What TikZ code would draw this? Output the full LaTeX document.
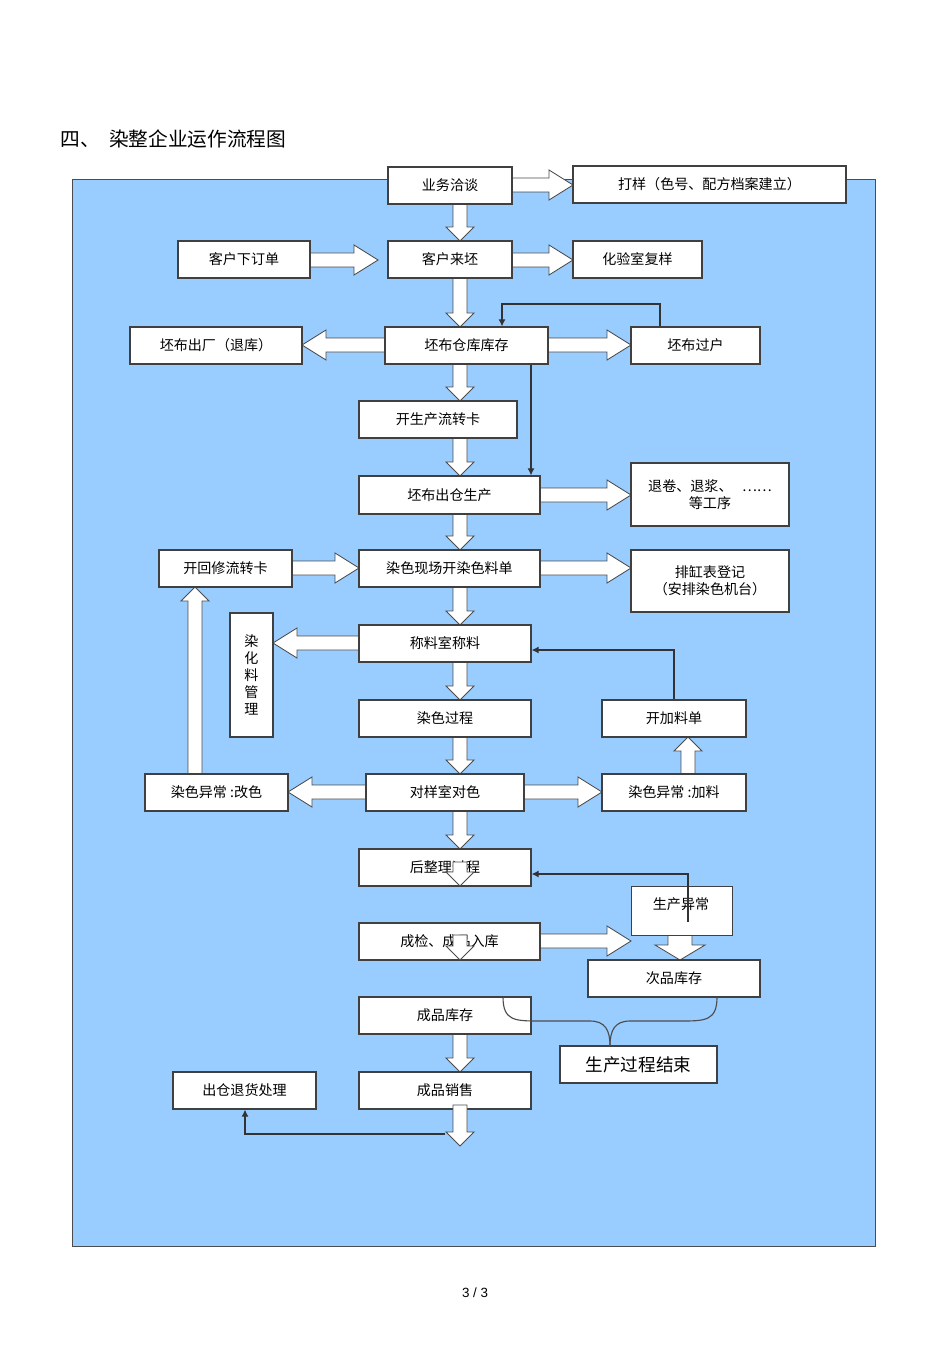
\documentclass[tikz,border=0pt]{standalone}
\usepackage{fontspec}
\usetikzlibrary{arrows.meta}
\setmainfont{Noto Sans CJK SC}
\newfontfamily\lat{Liberation Sans}
\begin{document}
\begin{tikzpicture}[x=0.025cm,y=-0.025cm,
  box/.style={draw=black!75,line width=0.9pt,fill=white,inner sep=0,font=\fontsize{10}{12}\selectfont},
  barr/.style={draw=black!70,line width=0.6pt,fill=white},
  thin/.style={draw=black!80,line width=0.8pt,-{Latex[length=5pt,width=5pt]}}]
\useasboundingbox (0,0) rectangle (950,1345);
\fill[white] (0,0) rectangle (950,1345);
\fill[fill={rgb,255:red,153;green,204;blue,255},draw=black!70] (72,179) rectangle (875,1246);
\node[anchor=west,font=\fontsize{14}{16}\selectfont] (title) at (56,139) {四、\ \ 染整企业运作流程图};
\node[font=\lat\fontsize{9.5}{11}\selectfont] (pg) at (475,1293) {3 / 3};
\newcommand\bx[6]{\node[box,minimum width=(#4-#2)*0.025cm,minimum height=(#5-#3)*0.025cm,align=center] (#1) at ({(#2+#4)/2},{(#3+#5)/2}) {#6};}
\newcommand\harr[3]{\pgfmathsetmacro\xb{#2-sign(#2-#1)*24}
  \draw[barr] (#1,#3-7)--(\xb,#3-7)--(\xb,#3-15)--(#2,#3)--(\xb,#3+15)--(\xb,#3+7)--(#1,#3+7)--cycle;}
\newcommand\varr[3]{\pgfmathsetmacro\yb{#3-sign(#3-#2)*14}
  \draw[barr] (#1-7,#2)--(#1-7,\yb)--(#1-14,\yb)--(#1,#3)--(#1+14,\yb)--(#1+7,\yb)--(#1+7,#2)--cycle;}
% block arrows
\harr{505}{573}{185}\varr{460}{200}{241}
\harr{305}{378}{260}\harr{505}{573}{260}\varr{460}{274}{327}
\harr{390}{302}{345}\harr{543}{631}{345}\varr{460}{360}{401}
\varr{460}{434}{476}\harr{535}{631}{495}\varr{460}{510}{550}
\harr{287}{359}{568}\harr{535}{631}{568}\varr{460}{583}{625}
\harr{364}{273}{643}\varr{460}{658}{700}\varr{460}{733}{774}
\harr{371}{288}{792}\harr{519}{602}{792}\varr{688}{778}{737}
\varr{195}{778}{587}\varr{460}{807}{849}
\harr{535}{631}{941}
\draw[barr] (668,931)--(668,945)--(655,945)--(680,960)--(705,945)--(692,945)--(692,931)--cycle;
\varr{460}{1030}{1072}
% boxes
\bx{a}{388}{167}{512}{204}{业务洽谈}
\bx{b}{573}{166}{846}{203}{打样（色号、配方档案建立）}
\bx{c}{178}{241}{310}{278}{客户下订单}
\bx{d}{388}{241}{512}{278}{客户来坯}
\bx{e}{573}{241}{702}{278}{化验室复样}
\bx{f}{130}{327}{302}{364}{坯布出厂（退库）}
\bx{g}{385}{327}{548}{364}{坯布仓库库存}
\bx{h}{631}{327}{760}{364}{坯布过户}
\bx{i}{359}{401}{517}{438}{开生产流转卡}
\bx{j}{359}{476}{540}{514}{坯布出仓生产}
\bx{k}{631}{463}{789}{526}{退卷、退浆、 \ \ ……\\等工序}
\bx{l}{159}{550}{292}{587}{开回修流转卡}
\bx{m}{359}{550}{540}{587}{染色现场开染色料单}
\bx{n}{631}{550}{789}{612}{排缸表登记\\（安排染色机台）}
\bx{o}{230}{613}{273}{737}{染\\化\\料\\管\\理}
\bx{p}{359}{625}{531}{662}{称料室称料}
\bx{q}{359}{700}{531}{737}{染色过程}
\bx{r}{602}{700}{746}{737}{开加料单}
\bx{s}{145}{774}{288}{811}{染色异常 :改色}
\bx{t}{366}{774}{524}{811}{对样室对色}
\bx{u}{602}{774}{746}{811}{染色异常 :加料}
\bx{v}{359}{849}{531}{886}{后整理过程}
\node[box,minimum width=101*0.025cm,minimum height=49*0.025cm,anchor=north west] (w) at (631,886) {};
\node[font=\fontsize{10}{12}\selectfont] (wt) at (681,904) {生产异常};
\bx{x}{359}{923}{540}{960}{成检、成品入库}
\bx{y}{588}{960}{760}{997}{次品库存}
\bx{z}{359}{997}{531}{1034}{成品库存}
\node[box,minimum width=157*0.025cm,minimum height=37*0.025cm,font=\fontsize{12.5}{14}\selectfont] (end) at (638.5,1064.5) {生产过程结束};
\bx{ret}{173}{1072}{316}{1109}{出仓退货处理}
\bx{sal}{359}{1072}{531}{1109}{成品销售}
\varr{460}{862}{886}\varr{460}{935}{960}\varr{460}{1105}{1146}
% thin arrows
\draw[thin] (h.north-|660,0) |- (502,304) -- (g.north-|502,0);
\draw[thin] (g.south-|531,0) -- (j.north-|531,0);
\draw[thin] (r.north) |- (p.east|-0,650);
\draw[thin] (688,922) |- (v.east|-0,874);
\draw[thin] (445,1134) -| (ret.south-|245,0);
% brace
\draw[black!70,line width=0.8pt] (503,997) .. controls (503,1021) and (515,1021) .. (540,1021) -- (590,1021) .. controls (605,1021) and (610,1030) .. (610,1046);
\draw[black!70,line width=0.8pt] (717,997) .. controls (717,1021) and (705,1021) .. (680,1021) -- (630,1021) .. controls (615,1021) and (610,1030) .. (610,1046);
\end{tikzpicture}
\end{document}
